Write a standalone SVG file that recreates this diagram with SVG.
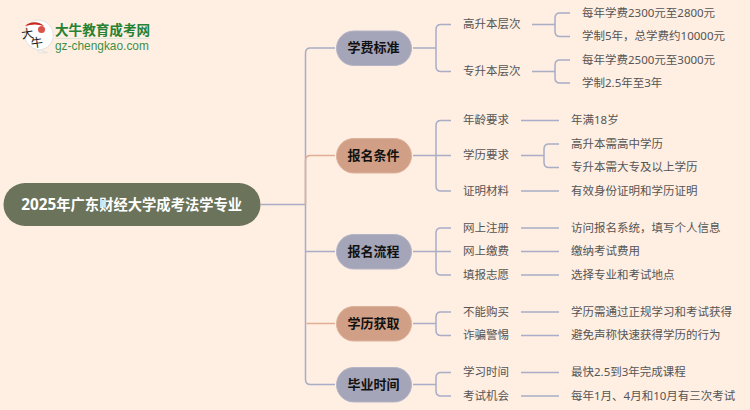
<svg xmlns="http://www.w3.org/2000/svg" width="750" height="410" viewBox="0 0 750 410">
<style>
text{font-family:"Noto Sans","Noto Sans CJK SC",sans-serif}
.l{fill:none;stroke:#a9adc6;stroke-width:1.5}
.o{fill:none;stroke:#dfae94;stroke-width:1.5}
.t{font-size:11.500px;fill:#555;dominant-baseline:central;transform:translateY(-.8px)}
.b{font-size:13px;font-weight:700;fill:#111;text-anchor:middle;dominant-baseline:central;transform:translateY(-.8px)}
.g{fill:#a5a5b9;stroke:#b4b4c6}
.r{fill:#d09f85;stroke:#dcb199}
</style>
<rect width="750" height="410" fill="#ffeee2"/>
<g id="connectors">
<path class="l" d="M261 204.500H305.500M305.500 379.500V53Q305.500 48 310.500 48H335M305.500 251.500H335M305.500 379.500Q305.500 384.500 310.500 384.500H335"/>
<path class="o" d="M305.500 204.500V160.500Q305.500 155.500 310.500 155.500H335M306.500 323.500H335"/>
<path class="l" d="M413 48H436M451 24.500H441Q436 24.500 436 29.500V66.500Q436 71.500 441 71.500H451"/>
<path class="l" d="M532 24.500H555M570 13H560Q555 13 555 18V31.500Q555 36.500 560 36.500H570M532 71.500H555M570 60H560Q555 60 555 65V78Q555 83 560 83H570"/>
<path class="l" d="M413 155.500H436M451 120.500H441Q436 120.500 436 125.500V186Q436 191 441 191H451M436 155.500H451"/>
<path class="l" d="M521 120.500H559M521 155.500H544M559 144H549Q544 144 544 149V162.500Q544 167.500 549 167.500H559M521 191H559"/>
<path class="l" d="M413 251.500H436M451 228H441Q436 228 436 233V270Q436 275 441 275H451M436 251.500H451"/>
<path class="l" d="M521 228H559M521 251.500H559M521 275H559"/>
<path class="l" d="M413 323.500H436M451 312H441Q436 312 436 317V330.500Q436 335.500 441 335.500H451"/>
<path class="l" d="M521 312H559M521 335.500H559"/>
<path class="l" d="M413 384.500H436M451 372.500H441Q436 372.500 436 377.500V391Q436 396 441 396H451"/>
<path class="l" d="M521 372.500H559M521 396H559"/>
</g>
<g id="logo">
<path d="M34.500 20.500a15 15 0 1 1 3 29.500l10 2.500-8 .5-2-3.500a15 15 0 0 1-3-29z" fill="#fff" stroke="#e2e2dc"/>
<path d="M25 26a14 14 0 0 1 19 0q-9-3-19 0z" fill="#c8261e"/>
<circle cx="41.500" cy="29.500" r="3.500" fill="#d9534a"/>
<text x="28" y="38" font-size="12" fill="#222" text-anchor="middle" transform="rotate(-8 28 38)">大</text>
<text x="37.500" y="47" font-size="12" fill="#222" text-anchor="middle" transform="rotate(-8 37.500 47)">牛</text>
<text x="55" y="34.500" font-size="13.600" font-weight="700" fill="#258233">大牛教育成考网</text>
<path d="M55 38.500H150" stroke="#dfe6d8" fill="none"/>
<text x="55" y="49.500" font-size="11.900" fill="#3c9148" style="font-family:'Liberation Sans',sans-serif">gz-chengkao.com</text>
</g>
<g id="root"><rect x="3.500" y="183" width="257" height="43" rx="21.500" fill="#6b735b"/><text x="131.700" y="204" font-size="14.300" font-weight="700" fill="#fff" text-anchor="middle" dominant-baseline="central"><tspan font-size="15.300">2025</tspan>年广东财经大学成考法学专业</text></g>
<g id="n1"><rect class="g" x="336.500" y="31" width="75" height="34.500" rx="17.250"/><text class="b" x="373.500" y="48">学费标准</text></g>
<g id="n2"><rect class="r" x="336.500" y="138.500" width="75" height="34.500" rx="17.250"/><text class="b" x="373.500" y="155.500">报名条件</text></g>
<g id="n3"><rect class="g" x="336.500" y="234.500" width="75" height="34.500" rx="17.250"/><text class="b" x="373.500" y="251.500">报名流程</text></g>
<g id="n4"><rect class="r" x="336.500" y="306.500" width="75" height="34.500" rx="17.250"/><text class="b" x="373.500" y="323.500">学历获取</text></g>
<g id="n5"><rect class="g" x="336.500" y="367.500" width="75" height="34.500" rx="17.250"/><text class="b" x="373.500" y="384.500">毕业时间</text></g>
<g id="labels">
<text class="t" x="463" y="24.500">高升本层次</text>
<text class="t" x="463" y="71.500">专升本层次</text>
<text class="t" x="582" y="13">每年学费2300元至2800元</text>
<text class="t" x="582" y="36.500">学制5年，总学费约10000元</text>
<text class="t" x="582" y="60">每年学费2500元至3000元</text>
<text class="t" x="582" y="83">学制2.5年至3年</text>
<text class="t" x="463" y="120.500">年龄要求</text>
<text class="t" x="463" y="155.500">学历要求</text>
<text class="t" x="463" y="191">证明材料</text>
<text class="t" x="571" y="120.500">年满18岁</text>
<text class="t" x="571" y="144">高升本需高中学历</text>
<text class="t" x="571" y="167.500">专升本需大专及以上学历</text>
<text class="t" x="571" y="191">有效身份证明和学历证明</text>
<text class="t" x="463" y="228">网上注册</text>
<text class="t" x="463" y="251.500">网上缴费</text>
<text class="t" x="463" y="275">填报志愿</text>
<text class="t" x="571" y="228">访问报名系统，填写个人信息</text>
<text class="t" x="571" y="251.500">缴纳考试费用</text>
<text class="t" x="571" y="275">选择专业和考试地点</text>
<text class="t" x="463" y="312">不能购买</text>
<text class="t" x="463" y="335.500">诈骗警惕</text>
<text class="t" x="571" y="312">学历需通过正规学习和考试获得</text>
<text class="t" x="571" y="335.500">避免声称快速获得学历的行为</text>
<text class="t" x="463" y="372.500">学习时间</text>
<text class="t" x="463" y="396">考试机会</text>
<text class="t" x="571" y="372.500">最快2.5到3年完成课程</text>
<text class="t" x="571" y="396">每年1月、4月和10月有三次考试</text>
</g>
</svg>
